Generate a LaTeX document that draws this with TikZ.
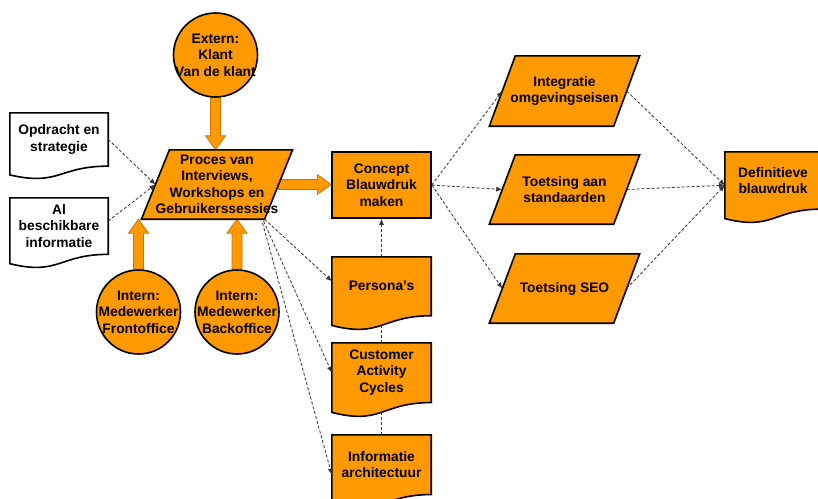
\documentclass[tikz,border=0pt]{standalone}
\usepackage{fontspec}
\setmainfont{Liberation Sans}
\usetikzlibrary{calc,backgrounds,arrows.meta}
\definecolor{orng}{RGB}{255,153,0}
\definecolor{blkedge}{RGB}{205,115,0}
\tikzset{
 txt/.style={font=\bfseries\fontsize{13.8}{16.5}\selectfont, align=center, inner sep=0pt, text=black},
 shapeline/.style={draw=black, line width=1.6pt, line join=miter},
 circ/.style={circle, shapeline, fill=orng, minimum size=84pt, inner sep=0pt},
 rectbox/.style={rectangle, shapeline, fill=orng, minimum width=99pt, minimum height=66pt, txt},
 blockarr/.style={fill=orng, draw=blkedge, line width=0.8pt},
 dashcon/.style={draw=black!80, line width=0.8pt, dash pattern=on 3pt off 2pt, -{Latex[length=6pt,width=5pt]}},
 dashline/.style={draw=black!80, line width=0.8pt, dash pattern=on 3pt off 2pt},
}
\newcommand{\docshape}[2]{\draw[shapeline, fill=#2] (#1.north west) -- (#1.north east) -- ($(#1.north east)!1.0025!(#1.south east)$) .. controls ($(#1.north)!1.0025!(#1.south)$) and ($(#1.north)!1.384!(#1.south)$) .. ($(#1.north west)!1.1675!(#1.south west)$) -- cycle;}
\newcommand{\parashape}[2]{\draw[shapeline, fill=orng] ([xshift=#2]#1.north west) -- ([xshift=#2]#1.north east) -- ([xshift=-#2]#1.south east) -- ([xshift=-#2]#1.south west) -- cycle;}
\newcommand{\blkv}[3]{\draw[blockarr] ([xshift=-5pt]#1) -- ([xshift=-5pt,yshift=#3*14pt]#2) -- ([xshift=-10pt,yshift=#3*14pt]#2) -- (#2) -- ([xshift=10pt,yshift=#3*14pt]#2) -- ([xshift=5pt,yshift=#3*14pt]#2) -- ([xshift=5pt]#1) -- cycle;}
\newcommand{\blkh}[2]{\draw[blockarr] ([yshift=5pt]#1) -- ([xshift=-14pt,yshift=5pt]#2) -- ([xshift=-14pt,yshift=10pt]#2) -- (#2) -- ([xshift=-14pt,yshift=-10pt]#2) -- ([xshift=-14pt,yshift=-5pt]#2) -- ([yshift=-5pt]#1) -- cycle;}
\begin{document}
\begin{tikzpicture}[x=1pt,y=-1pt]
\useasboundingbox (0,0) rectangle (818,498);
% circles
\node[circ] (ext) at (215.5,55) {};
\node[txt] (extT) at (ext) {Extern:\\Klant\\Van de klant};
\node[circ] (front) at (138.5,312) {};
\node[txt] (frontT) at (front) {Intern:\\Medewerker\\Frontoffice};
\node[circ] (back) at (237,312) {};
\node[txt] (backT) at (back) {Intern:\\Medewerker\\Backoffice};
% process parallelogram and rectangle
\node[txt, minimum width=121pt, minimum height=69pt] (proc) at (217,184.5) {Proces van\\Interviews,\\Workshops en\\Gebruikerssessies};
\node[rectbox] (conc) at (381.5,185) {Concept\\Blauwdruk\\maken};
% documents
\node[txt, minimum width=98pt, minimum height=52.8pt] (opd) at (59,139.4) {Opdracht en\\strategie};
\node[txt, minimum width=98pt, minimum height=56pt] (ai) at (59,226) {Al\\beschikbare\\informatie};
\node[txt, minimum width=99pt, minimum height=58.4pt] (pers) at (381.5,286.2) {Persona’s};
\node[txt, minimum width=99pt, minimum height=59.2pt] (cac) at (381.5,372.6) {Customer\\Activity\\Cycles};
\node[txt, minimum width=99pt, minimum height=59.2pt] (info) at (381.5,464.6) {Informatie\\architectuur};
\node[txt, minimum width=96pt, minimum height=56.8pt] (def) at (773,180.4) {Definitieve\\blauwdruk};
% right parallelograms
\node[txt, minimum width=124pt, minimum height=70pt] (integ) at (564.5,91) {Integratie\\omgevingseisen};
\node[txt, minimum width=124pt, minimum height=69pt] (std) at (564.5,189.5) {Toetsing aan\\standaarden};
\node[txt, minimum width=124pt, minimum height=69pt] (seo) at (564.5,288.5) {Toetsing SEO};
% tips of block arrows
\coordinate (extTip) at (ext.south |- proc.north);
\coordinate (frontTip) at (front.north |- proc.south);
\coordinate (backTip) at (back.north |- proc.south);
\coordinate (concTip) at (conc.west |- proc.east);
\coordinate (defIn) at ($(def.north west)!0.584!(def.south west)$);
\begin{pgfonlayer}{background}
 \blkv{ext.south}{extTip}{1}
 \blkv{front.north}{frontTip}{-1}
 \blkv{back.north}{backTip}{-1}
 \blkh{proc.east}{concTip}
 \parashape{proc}{14pt}
 \parashape{integ}{13pt}
 \parashape{std}{13pt}
 \parashape{seo}{13pt}
 \docshape{opd}{white}
 \docshape{ai}{white}
 \docshape{pers}{orng}
 \docshape{cac}{orng}
 \docshape{info}{orng}
 \docshape{def}{orng}
\end{pgfonlayer}
% dashed connectors
\draw[dashcon] (opd.east) -- (proc.west);
\draw[dashcon] ([yshift=5pt]ai.east) -- (proc.west);
\draw[dashcon] ([xshift=-14pt]proc.south east) -- ([yshift=5pt]pers.west);
\draw[dashcon] ([xshift=-15pt,yshift=-2pt]proc.south east) -- (cac.west);
\draw[dashcon] ([xshift=-16pt,yshift=-4pt]proc.south east) -- ([yshift=-10pt]info.west);
\draw[dashcon] (pers.north) -- (conc.south);
\draw[dashline] (cac.north) -- ($(pers.north)!1.166!(pers.south)$);
\draw[dashline] (info.north) -- ($(cac.north)!1.166!(cac.south)$);
\draw[dashcon] (conc.east) -- (integ.west);
\draw[dashcon] (conc.east) -- (std.west);
\draw[dashcon] (conc.east) -- (seo.west);
\draw[dashcon] (integ.east) -- (defIn);
\draw[dashcon] (std.east) -- (defIn);
\draw[dashcon] (seo.east) -- (defIn);
\end{tikzpicture}
\end{document}
